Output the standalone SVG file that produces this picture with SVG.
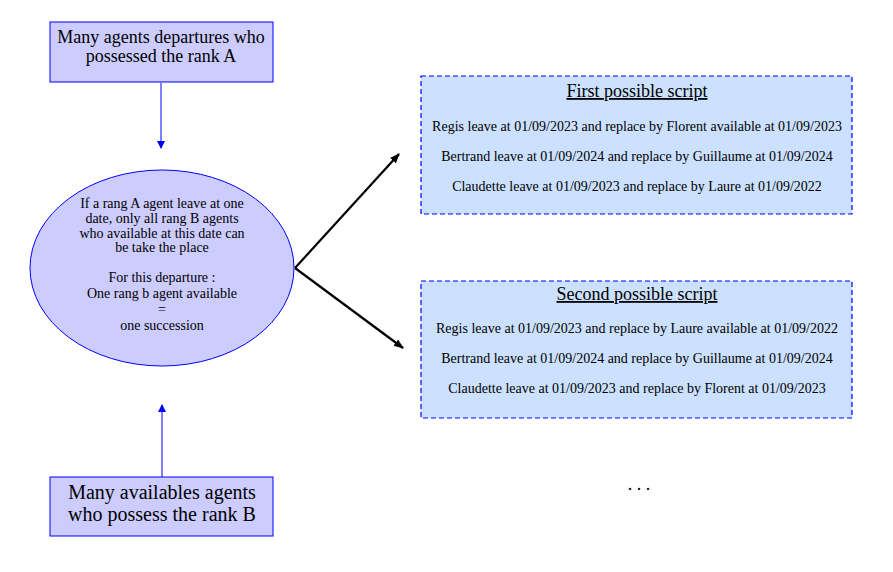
<svg xmlns="http://www.w3.org/2000/svg" width="893" height="572" viewBox="0 0 893 572">
<style>
text{font-family:"Liberation Serif","Times New Roman",serif;fill:#000;text-anchor:middle}
.box{fill:#ccccff;stroke:#0000ff;stroke-width:1}
.dash{fill:#cce0ff;stroke:#0000ff;stroke-width:1.2;stroke-dasharray:5,3}
.big{font-size:18px}
.huge{font-size:20px}
.mid{font-size:14px}
.title{font-size:18px;text-decoration:underline}
.blk{stroke:#000;stroke-width:2.2;fill:none}
</style>
<defs>
<marker id="ab" markerWidth="8" markerHeight="8" refX="7" refY="4" orient="auto" markerUnits="userSpaceOnUse"><path d="M0,0 L8,4 L0,8 z" fill="#0000ff"/></marker>
<marker id="ak" markerWidth="10" markerHeight="10" refX="9" refY="5" orient="auto" markerUnits="userSpaceOnUse"><path d="M0,1 L10,5 L0,9 z" fill="#000"/></marker>
</defs>
<rect width="893" height="572" fill="#fff"/>
<g id="connectors">
<line x1="161" y1="83" x2="161" y2="148" stroke="#0000ff" stroke-width="1" marker-end="url(#ab)"/>
<line x1="162" y1="477" x2="162" y2="405" stroke="#8080ff" stroke-width="2" marker-end="url(#ab)"/>
<line class="blk" x1="295" y1="268" x2="399" y2="154" marker-end="url(#ak)"/>
<line class="blk" x1="295" y1="268" x2="403" y2="348" marker-end="url(#ak)"/>
</g>
<g id="top">
<rect class="box" x="50" y="22" width="223" height="60"/>
<text class="big" x="161" y="43">Many agents departures who</text>
<text class="big" x="161" y="62">possessed the rank A</text>
</g>
<g id="center">
<ellipse class="box" cx="162" cy="268" rx="132" ry="98"/>
<text class="mid" x="162" y="208">If a rang A agent leave at one</text>
<text class="mid" x="162" y="223">date, only all rang B agents</text>
<text class="mid" x="162" y="238">who available at this date can</text>
<text class="mid" x="162" y="252">be take the place</text>
<text class="mid" x="162" y="282">For this departure :</text>
<text class="mid" x="162" y="298">One rang b agent available</text>
<text class="mid" x="162" y="314">=</text>
<text class="mid" x="162" y="330">one succession</text>
</g>
<g id="bottom">
<rect class="box" x="50" y="477" width="223" height="59"/>
<text class="huge" x="162" y="499">Many availables agents</text>
<text class="huge" x="162" y="521">who possess the rank B</text>
</g>
<g id="script1">
<rect class="dash" x="421" y="76" width="431" height="138"/>
<text class="title" x="637" y="97">First possible script</text>
<text class="mid" x="637" y="131">Regis leave at 01/09/2023 and replace by Florent available at 01/09/2023</text>
<text class="mid" x="637" y="161">Bertrand leave at 01/09/2024 and replace by Guillaume at 01/09/2024</text>
<text class="mid" x="637" y="191">Claudette leave at 01/09/2023 and replace by Laure at 01/09/2022</text>
</g>
<g id="script2">
<rect class="dash" x="421" y="281" width="431" height="137"/>
<text class="title" x="637" y="300">Second possible script</text>
<text class="mid" x="637" y="333">Regis leave at 01/09/2023 and replace by Laure available at 01/09/2022</text>
<text class="mid" x="637" y="363">Bertrand leave at 01/09/2024 and replace by Guillaume at 01/09/2024</text>
<text class="mid" x="637" y="393">Claudette leave at 01/09/2023 and replace by Florent at 01/09/2023</text>
</g>
<g id="ellipsis">
<text class="big" x="639" y="490">. . .</text>
</g>
</svg>
